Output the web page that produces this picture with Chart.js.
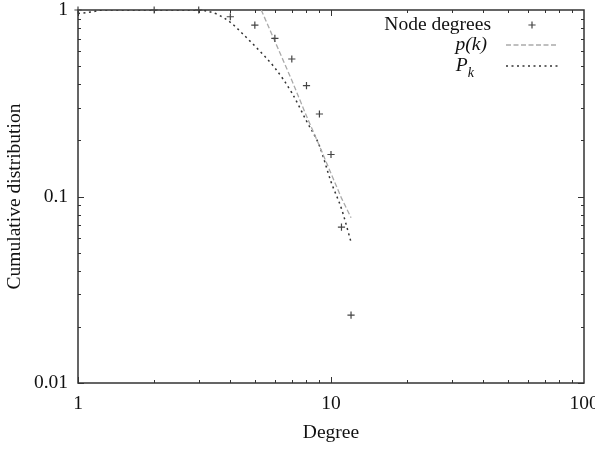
<!DOCTYPE html>
<html>
<head>
<meta charset="utf-8">
<script src="https://cdn.jsdelivr.net/npm/chart.js@4.4.0/dist/chart.umd.min.js"></script>
<style>
  html, body { margin: 0; padding: 0; background: #fff; }
  #wrap { width: 595px; height: 449px; }
</style>
</head>
<body>
<div id="wrap"><canvas id="degreeChart" width="595" height="449"></canvas></div>
<script>
// measured node degrees and their cumulative share
const degrees = [1, 2, 3, 4, 5, 6, 7, 8, 9, 10, 11, 12];
const cumulative = [1, 1, 1, 0.92, 0.83, 0.705, 0.546, 0.393, 0.277, 0.168, 0.0686, 0.0231];

// p(k) fit line
const fitK = [5.3, 6, 7, 8, 9, 10, 11, 12];
const fitP = [1.0, 0.68, 0.42, 0.27, 0.187, 0.133, 0.098, 0.077];

// P_k model curve
const modelK = [1, 1.15, 1.25, 2, 3, 3.3, 3.6, 4, 4.5, 5, 6, 7, 8, 9, 10, 11, 12];
const modelP = [0.957, 0.98, 1, 1, 1, 0.98, 0.94, 0.86, 0.74, 0.641, 0.489, 0.36, 0.254, 0.187, 0.12, 0.086, 0.057];

const xTickValues = [1, 10, 100];
const yTickValues = [0.01, 0.1, 1];

const serif = '"Liberation Serif", "DejaVu Serif", serif';
const fontSize = 19.5;
const ink = "#111";

function pairs(xs, ys) {
    return xs.map((v, i) => ({ x: v, y: ys[i] }));
}

// border box with inward ticks on all four sides, gnuplot style
const frameTicks = {
    id: "frameTicks",
    beforeDatasetsDraw(chart) {
        const { ctx, chartArea: a, scales: { x, y } } = chart;
        ctx.save();
        ctx.strokeStyle = "#333";
        ctx.lineWidth = 1;
        ctx.beginPath();
        [1, 10].forEach(dec => {
            for (let m = 1; m <= 9; m++) {
                const px = Math.round(x.getPixelForValue(dec * m)) + 0.5;
                const len = m === 1 ? 6 : 3;
                ctx.moveTo(px, a.bottom); ctx.lineTo(px, a.bottom - len);
                ctx.moveTo(px, a.top); ctx.lineTo(px, a.top + len);
            }
        });
        [0.01, 0.1].forEach(dec => {
            for (let m = 1; m <= 9; m++) {
                const py = Math.round(y.getPixelForValue(dec * m)) + 0.5;
                const len = m === 1 ? 6 : 3;
                ctx.moveTo(a.left, py); ctx.lineTo(a.left + len, py);
                ctx.moveTo(a.right, py); ctx.lineTo(a.right - len, py);
            }
        });
        ctx.stroke();
        ctx.lineWidth = 1.5;
        ctx.strokeRect(a.left, a.top, a.right - a.left, a.bottom - a.top);
        ctx.restore();
    }
};

// key in the top right corner: labels right aligned, samples to their right
const keyBox = {
    id: "keyBox",
    afterDraw(chart) {
        const { ctx, chartArea: a } = chart;
        const textRight = a.right - 93;
        const sampleLeft = a.right - 78;
        const sampleRight = a.right - 26;
        const mid = (sampleLeft + sampleRight) / 2;
        const rows = [a.top + 15, a.top + 35, a.top + 56];
        const sets = chart.data.datasets;

        ctx.save();
        ctx.fillStyle = ink;
        ctx.textAlign = "right";
        ctx.textBaseline = "middle";

        // Node degrees
        ctx.font = `${fontSize}px ${serif}`;
        ctx.fillText("Node degrees", textRight, rows[0]);
        ctx.strokeStyle = sets[0].pointBorderColor;
        ctx.lineWidth = sets[0].pointBorderWidth;
        const r = sets[0].pointRadius;
        ctx.beginPath();
        ctx.moveTo(mid - r, rows[0]); ctx.lineTo(mid + r, rows[0]);
        ctx.moveTo(mid, rows[0] - r); ctx.lineTo(mid, rows[0] + r);
        ctx.stroke();

        // p(k)
        ctx.font = `italic ${fontSize}px ${serif}`;
        ctx.fillText("p(k)", textRight - 4, rows[1]);
        ctx.strokeStyle = sets[1].borderColor;
        ctx.lineWidth = sets[1].borderWidth;
        ctx.setLineDash(sets[1].borderDash);
        ctx.beginPath();
        ctx.moveTo(sampleLeft, rows[1]); ctx.lineTo(sampleRight, rows[1]);
        ctx.stroke();

        // P with subscript k
        ctx.font = `italic ${fontSize * 0.72}px ${serif}`;
        const subW = ctx.measureText("k").width;
        ctx.fillText("k", textRight - 17, rows[2] + 7);
        ctx.font = `italic ${fontSize}px ${serif}`;
        ctx.fillText("P", textRight - 17 - subW, rows[2]);
        ctx.strokeStyle = sets[2].borderColor;
        ctx.lineWidth = sets[2].borderWidth;
        ctx.setLineDash(sets[2].borderDash);
        ctx.beginPath();
        ctx.moveTo(sampleLeft, rows[2]); ctx.lineTo(sampleRight, rows[2]);
        ctx.stroke();
        ctx.restore();
    }
};

const ctx = document.getElementById("degreeChart").getContext("2d");
const degreeChart = new Chart(ctx, {
    type: "scatter",
    data: {
        datasets: [
            {
                label: "Node degrees",
                data: pairs(degrees, cumulative),
                pointStyle: "cross",
                pointRadius: 3.6,
                pointBorderColor: "#444",
                pointBorderWidth: 1.2,
                showLine: false,
                clip: false
            },
            {
                label: "p(k)",
                data: pairs(fitK, fitP),
                showLine: true,
                pointRadius: 0,
                borderColor: "#aaa",
                borderWidth: 1.3,
                borderDash: [5, 2.5]
            },
            {
                label: "P_k",
                data: pairs(modelK, modelP),
                showLine: true,
                pointRadius: 0,
                borderColor: "#333",
                borderWidth: 1.5,
                borderDash: [2, 3.5],
                cubicInterpolationMode: "monotone"
            }
        ]
    },
    options: {
        responsive: false,
        animation: false,
        events: [],
        layout: { padding: { top: 10, right: 11, left: 0, bottom: 0 } },
        plugins: { legend: { display: false }, tooltip: { enabled: false } },
        scales: {
            x: {
                type: "logarithmic",
                min: 1,
                max: 100,
                grid: { display: false, drawTicks: false },
                border: { display: false },
                afterBuildTicks: scale => { scale.ticks = xTickValues.map(v => ({ value: v })); },
                afterFit: scale => { scale.height = 66; scale.paddingLeft = 0; scale.paddingRight = 0; },
                ticks: {
                    color: ink,
                    padding: 9,
                    maxRotation: 0,
                    font: { family: serif, size: fontSize },
                    callback: v => String(v)
                },
                title: {
                    display: true,
                    text: "Degree",
                    color: ink,
                    padding: { top: 0, bottom: 4 },
                    font: { family: serif, size: fontSize }
                }
            },
            y: {
                type: "logarithmic",
                min: 0.01,
                max: 1,
                grid: { display: false, drawTicks: false },
                border: { display: false },
                afterBuildTicks: scale => { scale.ticks = yTickValues.map(v => ({ value: v })); },
                afterFit: scale => { scale.width = 78; scale.paddingTop = 0; scale.paddingBottom = 0; },
                ticks: {
                    color: ink,
                    padding: 10,
                    font: { family: serif, size: fontSize },
                    callback: v => String(v)
                },
                title: {
                    display: true,
                    text: "Cumulative distribution",
                    color: ink,
                    padding: { top: 3, bottom: 0 },
                    font: { family: serif, size: fontSize }
                }
            }
        }
    },
    plugins: [frameTicks, keyBox]
});
</script>
</body>
</html>
